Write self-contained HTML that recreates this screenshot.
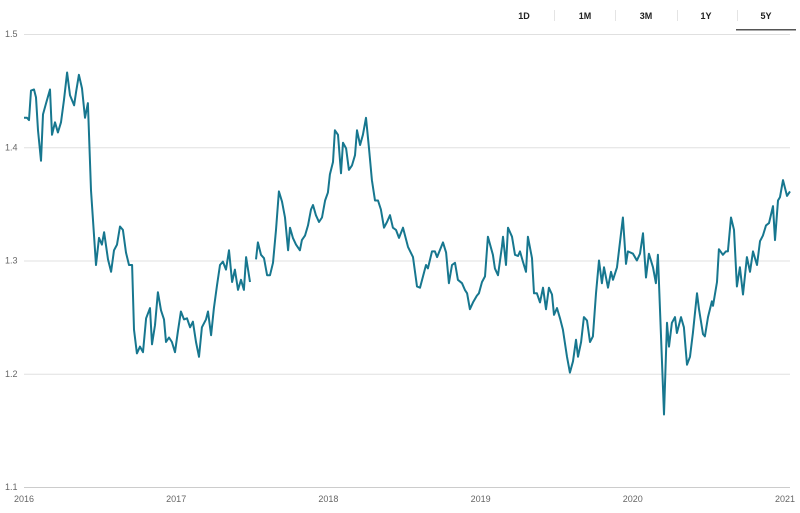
<!DOCTYPE html>
<html><head><meta charset="utf-8"><style>
body{margin:0;background:#fff;font-family:"Liberation Sans",sans-serif}
svg{display:block}
</style></head><body>
<svg width="800" height="513">
<g font-size="9" font-weight="bold" fill="#222" text-anchor="middle">
<text x="524" y="19">1D</text>
<text x="585" y="19">1M</text>
<text x="646" y="19">3M</text>
<text x="706" y="19">1Y</text>
<text x="766" y="19">5Y</text>
<line x1="554.5" y1="10" x2="554.5" y2="21" stroke="#e4e4e4"/>
<line x1="615.5" y1="10" x2="615.5" y2="21" stroke="#e4e4e4"/>
<line x1="677.5" y1="10" x2="677.5" y2="21" stroke="#e4e4e4"/>
<line x1="737.5" y1="10" x2="737.5" y2="21" stroke="#e4e4e4"/>
<rect x="736" y="29" width="60" height="1.5" fill="#555"/>
</g>
<g id="grid"></g>
<g id="xlabels"></g>
<path id="line" fill="none" stroke="#17778f" stroke-width="2" stroke-linejoin="round"/>
</svg>
<script>
const yTicks=[1.1,1.2,1.3,1.4,1.5];
const xTicks=[2016,2017,2018,2019,2020,2021];
const years=[0,.02,.033,.046,.066,.079,.092,.112,.125,.145,.171,.184,.204,.223,.243,.263,.283,.302,.329,.342,.361,.381,.401,.42,.44,.473,.493,.512,.526,.552,.572,.591,.611,.631,.65,.67,.69,.71,.723,.742,.762,.782,.802,.828,.841,.861,.88,.9,.92,.933,.953,.972,.992,1.012,1.031,1.051,1.071,1.091,1.11,1.13,1.15,1.169,1.196,1.209,1.229,1.248,1.268,1.288,1.307,1.327,1.347,1.367,1.386,1.406,1.426,1.445,1.459,1.485,1.505,1.524,1.537,1.557,1.577,1.597,1.616,1.636,1.656,1.675,1.695,1.715,1.735,1.748,1.767,1.787,1.813,1.826,1.846,1.866,1.886,1.899,1.918,1.938,1.958,1.978,1.997,2.01,2.03,2.043,2.063,2.083,2.096,2.116,2.135,2.155,2.175,2.188,2.208,2.227,2.247,2.267,2.286,2.306,2.326,2.345,2.365,2.385,2.405,2.424,2.444,2.464,2.49,2.523,2.556,2.582,2.602,2.641,2.654,2.681,2.7,2.714,2.753,2.773,2.792,2.812,2.832,2.851,2.878,2.897,2.911,2.93,2.95,2.976,2.989,3.009,3.029,3.048,3.081,3.094,3.114,3.14,3.147,3.167,3.18,3.206,3.226,3.246,3.259,3.278,3.298,3.311,3.338,3.351,3.37,3.39,3.41,3.43,3.449,3.469,3.482,3.502,3.522,3.541,3.568,3.587,3.607,3.627,3.64,3.66,3.679,3.699,3.719,3.738,3.758,3.778,3.797,3.811,3.837,3.857,3.87,3.896,3.935,3.955,3.968,4.001,4.027,4.047,4.067,4.087,4.106,4.133,4.152,4.165,4.205,4.225,4.238,4.257,4.277,4.29,4.317,4.336,4.356,4.376,4.395,4.422,4.435,4.461,4.474,4.494,4.52,4.527,4.553,4.566,4.592,4.612,4.625,4.645,4.665,4.684,4.704,4.724,4.75,4.77,4.79,4.816,4.836,4.855,4.875,4.895,4.921,4.934,4.954,4.967,4.987,5.013,5.033];
const rates=[1.426,1.426,1.424,1.45,1.451,1.444,1.415,1.388,1.429,1.439,1.451,1.411,1.422,1.413,1.422,1.442,1.466,1.446,1.437,1.449,1.464,1.452,1.426,1.439,1.362,1.296,1.32,1.314,1.325,1.301,1.29,1.309,1.314,1.33,1.327,1.307,1.296,1.296,1.239,1.218,1.224,1.219,1.249,1.258,1.226,1.243,1.272,1.256,1.248,1.228,1.232,1.228,1.219,1.238,1.255,1.248,1.249,1.241,1.246,1.228,1.215,1.241,1.248,1.255,1.234,1.258,1.278,1.296,1.299,1.292,1.309,1.281,1.292,1.274,1.283,1.274,1.303,1.281,null,1.301,1.316,1.305,1.302,1.287,1.287,1.298,1.327,1.361,1.352,1.338,1.309,1.329,1.32,1.314,1.309,1.318,1.322,1.331,1.345,1.349,1.34,1.334,1.338,1.353,1.36,1.376,1.387,1.415,1.411,1.377,1.404,1.399,1.38,1.384,1.393,1.415,1.402,1.411,1.426,1.399,1.371,1.353,1.353,1.345,1.329,1.334,1.34,1.329,1.327,1.32,1.329,1.312,1.303,1.277,1.276,1.296,1.293,1.308,1.308,1.303,1.316,1.307,1.28,1.296,1.298,1.283,1.28,1.274,1.271,1.257,1.263,1.269,1.271,1.281,1.286,1.321,1.305,1.293,1.287,1.312,1.321,1.296,1.329,1.321,1.305,1.304,1.308,1.299,1.29,1.321,1.302,1.271,1.271,1.263,1.276,1.257,1.276,1.27,1.252,1.258,1.249,1.239,1.215,1.201,1.211,1.23,1.215,1.228,1.25,1.247,1.228,1.233,1.271,1.3,1.28,1.294,1.276,1.29,1.283,1.294,1.338,1.297,1.308,1.306,1.3,1.306,1.324,1.285,1.306,1.294,1.28,1.305,1.164,1.245,1.224,1.245,1.25,1.236,1.25,1.241,1.208,1.215,1.236,1.271,1.257,1.235,1.233,1.25,1.264,1.26,1.281,1.31,1.305,1.308,1.308,1.338,1.327,1.277,1.294,1.27,1.303,1.29,1.308,1.296,1.317,1.322,1.331,1.333,1.348,1.318,1.353,1.356,1.371,1.357,1.361];
const NS="http://www.w3.org/2000/svg";
const X0=24,X1=785,Y0=487,Y1=34;
const xs=t=>X0+(t/5)*(X1-X0);
const ys=v=>Y0-(v-1.1)/0.4*(Y0-Y1);
const grid=document.getElementById('grid');
yTicks.forEach(v=>{
 const l=document.createElementNS(NS,'line');
 l.setAttribute('x1',X0);l.setAttribute('x2',790);
 l.setAttribute('y1',ys(v)+0.5);l.setAttribute('y2',ys(v)+0.5);
 l.setAttribute('stroke',v===1.1?'#ccc':'#e0e0e0');
 
 
 grid.appendChild(l);
 const t=document.createElementNS(NS,'text');
 t.setAttribute('x',5);t.setAttribute('y',ys(v)+3);
 t.setAttribute('font-size','9');t.setAttribute('fill','#666');
 t.textContent=v.toFixed(1);
 
 
 grid.appendChild(t);
});
const xl=document.getElementById('xlabels');
xTicks.forEach(y=>{
 const t=document.createElementNS(NS,'text');
 t.setAttribute('x',xs(y-2016));t.setAttribute('y',502);
 t.setAttribute('font-size','9');t.setAttribute('fill','#666');
 t.setAttribute('text-anchor','middle');
 t.textContent=y;
 
 
 xl.appendChild(t);
});
let d='',pen=false;
years.forEach((t,i)=>{
 const v=rates[i];
 if(v===null){pen=false;return;}
 d+=(pen?'L':'M')+xs(t).toFixed(1)+','+ys(v).toFixed(1);
 pen=true;
});
document.getElementById('line').setAttribute('d',d);
</script>
</body></html>
